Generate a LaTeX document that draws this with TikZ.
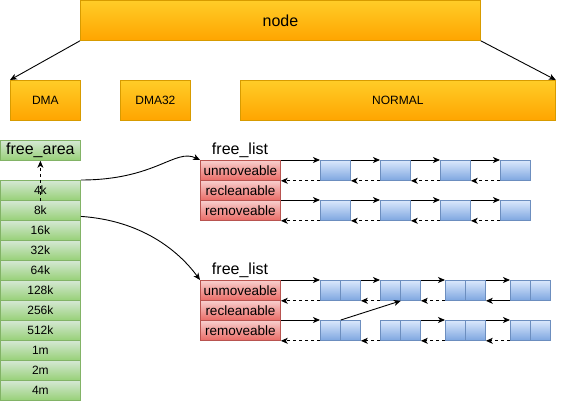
\documentclass[tikz,border=0pt]{standalone}
\usepackage{fontspec}
\setmainfont{Liberation Sans}
\usetikzlibrary{arrows.meta}
\definecolor{ogT}{HTML}{FFCD28}\definecolor{ogB}{HTML}{FFA500}\definecolor{ogS}{HTML}{D79B00}
\definecolor{grT}{HTML}{D5E8D4}\definecolor{grB}{HTML}{97D077}\definecolor{grS}{HTML}{82B366}
\definecolor{rdT}{HTML}{F8CECC}\definecolor{rdB}{HTML}{EA6B66}\definecolor{rdS}{HTML}{B85450}
\definecolor{blT}{HTML}{DAE8FC}\definecolor{blB}{HTML}{7EA6E0}\definecolor{blS}{HTML}{6C8EBF}
\newcommand\fsz[1]{\fontsize{#1}{#1}\selectfont}
\begin{document}
\begin{tikzpicture}[x=1pt,y=-1pt,
  box/.style={draw, line width=0.8pt, inner sep=0pt, anchor=north west, font=\fsz{12}},
  og/.style={box, draw=ogS, top color=ogT, bottom color=ogB, minimum height=40pt},
  gr/.style={box, draw=grS, top color=grT, bottom color=grB, minimum width=80pt, minimum height=20pt},
  rd/.style={box, draw=rdS, top color=rdT, bottom color=rdB, minimum width=80pt, minimum height=20pt, font=\fsz{13.5}},
  bl/.style={box, draw=blS, top color=blT, bottom color=blB, minimum height=20pt},
  arr/.style={draw=black, line width=0.9pt, -{Stealth[length=7pt,width=6pt,inset=2pt]}},
  darr/.style={arr, dash pattern=on 3pt off 3pt},
  lbl/.style={inner sep=0pt, font=\fsz{16}}]
\useasboundingbox (0,0) rectangle (569,401);
% zones
\node[og, minimum width=400pt, font=\fsz{16}] (top) at (80,0) {node};
\node[og, minimum width=70pt] (dma) at (10,80) {DMA};
\node[og, minimum width=70pt] (dma32) at (120,80) {DMA32};
\node[og, minimum width=315pt] (normal) at (240,80) {NORMAL};
\draw[arr] (top.south west) -- (dma.north west);
\draw[arr] (top.south east) -- (normal.north east);
% free_area column
\node[gr, font=\fsz{16}] (fa) at (0,140) {free\_area};
\foreach \t [count=\i] in {4k,8k,16k,32k,64k,128k,256k,512k,1m,2m,4m}
  \node[gr] (c\i) at (0,160+20*\i) {\t};
\draw[darr] (c1.south) -- (fa.south);
% free lists
\node[lbl] (fl1) at (240,150) {free\_list};
\node[lbl] (fl2) at (240,270) {free\_list};
\foreach \t [count=\i] in {unmoveable,recleanable,removeable}{
  \node[rd] (r\i) at (200,140+20*\i) {\t};
  \node[rd] (s\i) at (200,260+20*\i) {\t};
}
\draw[arr] (c1.north east) .. controls +(75,0) and +(-25,-12) .. (r1.north west);
\draw[arr] ([yshift=-6pt]c2.east) .. controls +(60,4) and +(-22,-30) .. (s1.north west);
% first list: single boxes
\foreach \x [count=\i] in {320,380,440,500}{
  \node[bl, minimum width=30pt] (a\i) at (\x,160) {};
  \node[bl, minimum width=30pt] (b\i) at (\x,200) {};
}
\draw[arr] (r1.north east) -- (a1.north west);
\draw[darr] (a1.south west) -- (r1.south east);
\draw[arr] (r3.north east) -- (b1.north west);
\draw[darr] (b1.south west) -- (r3.south east);
\foreach \i/\j in {1/2,2/3,3/4}{
  \draw[arr] (a\i.north east) -- (a\j.north west);
  \draw[darr] (a\j.south west) -- (a\i.south east);
  \draw[arr] (b\i.north east) -- (b\j.north west);
  \draw[darr] (b\j.south west) -- (b\i.south east);
}
% second list: double boxes
\foreach \x [count=\i] in {320,380,445,510}{
  \node[bl, minimum width=20pt] (da\i) at (\x,280) {};
  \node[bl, minimum width=20pt] (db\i) at (\x+20,280) {};
  \node[bl, minimum width=20pt] (ea\i) at (\x,320) {};
  \node[bl, minimum width=20pt] (eb\i) at (\x+20,320) {};
}
\draw[arr] (s1.north east) -- (da1.north west);
\draw[darr] (da1.south west) -- (s1.south east);
\draw[arr] (s3.north east) -- (ea1.north west);
\draw[darr] (ea1.south west) -- (s3.south east);
\foreach \i/\j in {1/2,2/3,3/4}{
  \draw[arr] (db\i.north east) -- (da\j.north west);
  \draw[darr] (ea\j.south west) -- (eb\i.south east);
}
\draw[darr] (da2.south west) -- (db1.south east);
\draw[darr] (da3.south west) -- (db2.south east);
\draw[arr] (da4.south west) -- (db3.south east);
\draw[arr] (ea1.north east) -- (da2.south east);
\draw[arr] (eb2.north east) -- (ea3.north west);
\draw[arr] (eb3.north east) -- (ea4.north west);
\end{tikzpicture}
\end{document}
